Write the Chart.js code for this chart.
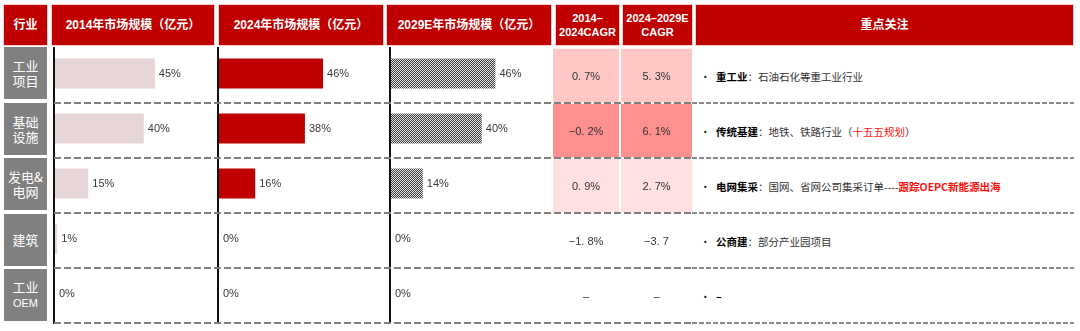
<!DOCTYPE html>
<html>
<head>
<meta charset="utf-8">
<script src="https://cdn.jsdelivr.net/npm/chart.js@4.4.1/dist/chart.umd.min.js"></script>
<style>
  html, body { margin: 0; padding: 0; background: #fff; width: 1080px; height: 331px; overflow: hidden; }
  body { position: relative; font-family: "Liberation Sans", "Noto Sans CJK SC", sans-serif; }
  .hd { position: absolute; top: 5px; height: 40px; background: #C00000; color: #fff; font-weight: bold;
        display: flex; align-items: center; justify-content: center; text-align: center;
        font-size: 12px; line-height: 13px; box-shadow: 0 0 0 1px #F6D0D0; }
  .hd.small { font-size: 11px; line-height: 14px; }
  .cat { position: absolute; left: 4px; width: 43px; height: 52px; background: #808080; color: #fff;
         display: flex; align-items: center; justify-content: center; text-align: center;
         font-family: "Noto Sans CJK SC", sans-serif; font-size: 13px; line-height: 15px; }
  .cat .en { font-family: "Liberation Sans Narrow", "Liberation Sans", sans-serif; font-size: 11px; }
  .vline { position: absolute; top: 47px; width: 2px; height: 277px; background: #111; z-index: 3; }
  .dash { position: absolute; height: 2px; z-index: 4;
          background: repeating-linear-gradient(to right, #7f7f7f 0 7px, transparent 7px 10px); }
  .dash.fine { background: repeating-linear-gradient(to right, #8a8a8a 0 5px, transparent 5px 7px); }
  .box { position: absolute; }
  .note { position: absolute; left: 700px; height: 20px; display: flex; align-items: center;
          font-family: "Noto Sans CJK SC", sans-serif; font-size: 10.5px; color: #333; white-space: nowrap; z-index: 5; }
  .note .dot { width: 16px; color: #222; }
  .note b { color: #000; }
  .note .hl { color: #FF1010; }
</style>
</head>
<body>
<script>
// ---- data -------------------------------------------------------------
const headers = ['行业', '2014年市场规模（亿元）', '2024年市场规模（亿元）', '2029E年市场规模（亿元）',
                 '2014–<br>2024CAGR', '2024–2029E<br>CAGR', '重点关注'];
const industries = ['工业项目', '基础设施', '发电&电网', '建筑', '工业OEM'];
const industryLines = [['工业', '项目'], ['基础', '设施'], ['发电&', '电网'], ['建筑'], ['工业', 'OEM']];

// market share of each industry (%)
const share2014 = [45, 40, 15, 1, 0];
const share2024 = [46, 38, 16, 0, 0];
const share2029E = [46, 40, 14, 0, 0];

// growth rates as printed
const cagr2014to2024 = ['0. 7%', '−0. 2%', '0. 9%', '−1. 8%', '–'];
const cagr2024to2029E = ['5. 3%', '6. 1%', '2. 7%', '−3. 7', '–'];

// focus notes: key term, body, highlighted part, closing text
const focusKeys = ['重工业', '传统基建', '电网集采', '公商建', '–'];
const focusBodies = ['：石油石化等重工业行业', '：地铁、铁路行业（', '：国网、省网公司集采订单----', '：部分产业园项目', ''];
const focusHighlights = ['', '十五五规划', '跟踪OEPC新能源出海', '', ''];
const focusTails = ['', '）', '', '', ''];

// ---- styles -----------------------------------------------------------
const growthFills = ['#FFC6C6', '#FF9090', '#FFE1E1', 'rgba(255,255,255,0)', 'rgba(255,255,255,0)'];
const highlightBold = [false, false, true, false, false];

// ---- layout helpers ---------------------------------------------------
function el(tag, cls, style, html) {
  const e = document.createElement(tag);
  if (cls) e.className = cls;
  Object.assign(e.style, style || {});
  if (html !== undefined) e.innerHTML = html;
  document.body.appendChild(e);
  return e;
}

// header row
const headerBoxes = [[4, 43], [52, 162], [219, 164], [387, 164], [556, 63], [623, 69], [696, 377]];
headers.forEach((h, i) => {
  const [x, w] = headerBoxes[i];
  el('div', 'hd' + (i === 4 || i === 5 ? ' small' : ''), { left: x + 'px', width: w + 'px' }, h);
});

// industry labels
industryLines.forEach((lines, i) => {
  const html = lines.map(s => /^[A-Z]+$/.test(s) ? '<span class="en">' + s + '</span>' : s).join('<br>');
  el('div', 'cat', { top: (47 + 55.5 * i) + 'px' }, '<div>' + html + '</div>');
});

// column rules
[53, 217, 389].forEach(x => el('div', 'vline', { left: x + 'px' }));
industries.forEach((_, i) => {
  const y = 102 + 55 * i;
  el('div', 'dash', { left: '54px', width: '638px', top: y + 'px' });
  el('div', 'dash fine', { left: '692px', width: '382px', top: y + 'px' });
});

// focus notes
industries.forEach((_, i) => {
  const hl = focusHighlights[i]
    ? (highlightBold[i] ? '<b class="hl">' + focusHighlights[i] + '</b>' : '<span class="hl">' + focusHighlights[i] + '</span>')
    : '';
  el('div', 'note', { top: (66 + 55 * i) + 'px' },
     '<span class="dot">•</span><b>' + focusKeys[i] + '</b>' + focusBodies[i] + hl + focusTails[i]);
});

// ---- charts -----------------------------------------------------------
Chart.defaults.font.family = '"Liberation Sans", "Noto Sans CJK SC", sans-serif';

function makeCanvas(x, y, w, h) {
  const box = el('div', 'box', { left: x + 'px', top: y + 'px', width: w + 'px', height: h + 'px' });
  const c = document.createElement('canvas');
  c.width = w; c.height = h;
  c.style.width = w + 'px'; c.style.height = h + 'px';
  box.appendChild(c);
  return c;
}

const valueLabels = {
  id: 'valueLabels',
  afterDatasetsDraw(chart, args, opts) {
    const ctx = chart.ctx;
    const ds = chart.data.datasets[0];
    ctx.save();
    ctx.font = '11px "Liberation Sans", sans-serif';
    ctx.fillStyle = '#3a3a3a';
    ctx.textAlign = 'left';
    ctx.textBaseline = 'middle';
    chart.getDatasetMeta(0).data.forEach((bar, i) => {
      ctx.fillText(ds.data[i] + '%', bar.x + 4, bar.y + 0.5);
    });
    ctx.restore();
  }
};

function shareChart(x, w, max, values, fill) {
  const c = makeCanvas(x, 46, w, 275);
  return new Chart(c, {
    type: 'bar',
    data: { labels: industries, datasets: [{ data: values, backgroundColor: fill, borderWidth: 0,
            barPercentage: 30 / 55, categoryPercentage: 1 }] },
    options: {
      indexAxis: 'y', responsive: false, animation: false,
      layout: { padding: 0 },
      plugins: { legend: { display: false }, tooltip: { enabled: false } },
      scales: { x: { display: false, min: 0, max: max }, y: { display: false } }
    },
    plugins: [valueLabels]
  });
}

// fine checkerboard fill used for the forecast column
function checkerPattern() {
  const p = document.createElement('canvas');
  p.width = 2; p.height = 2;
  const g = p.getContext('2d');
  g.fillStyle = '#e4e4e4'; g.fillRect(0, 0, 2, 2);
  g.fillStyle = '#3a3a3a'; g.fillRect(0, 0, 1, 1); g.fillRect(1, 1, 1, 1);
  return g.createPattern(p, 'repeat');
}

shareChart(55, 162, 73, share2014, '#E7D6D8');
shareChart(219, 168, 74.3, share2024, '#C00000');
shareChart(391, 160, 70.5, share2029E, checkerPattern());

const cellLabels = {
  id: 'cellLabels',
  afterDatasetsDraw(chart, args, opts) {
    const ctx = chart.ctx;
    const area = chart.chartArea;
    ctx.save();
    ctx.font = '11px "Liberation Sans", sans-serif';
    ctx.fillStyle = '#333';
    ctx.textAlign = 'center';
    ctx.textBaseline = 'middle';
    chart.getDatasetMeta(0).data.forEach((bar, i) => {
      ctx.fillText(opts.labels[i], (area.left + area.right) / 2, bar.y + 1.5);
    });
    ctx.restore();
  }
};

function growthChart(x, w, labels) {
  const c = makeCanvas(x, 48, w, 275);
  return new Chart(c, {
    type: 'bar',
    data: { labels: industries, datasets: [{ data: industries.map(() => [0, 1]), backgroundColor: growthFills,
            borderWidth: 0, barPercentage: 1, categoryPercentage: 0.97 }] },
    options: {
      indexAxis: 'y', responsive: false, animation: false,
      layout: { padding: 0 },
      plugins: { legend: { display: false }, tooltip: { enabled: false }, cellLabels: { labels: labels } },
      scales: { x: { display: false, min: 0, max: 1 }, y: { display: false } }
    },
    plugins: [cellLabels]
  });
}

growthChart(553, 66, cagr2014to2024);
growthChart(621, 71, cagr2024to2029E);
</script>
</body>
</html>
